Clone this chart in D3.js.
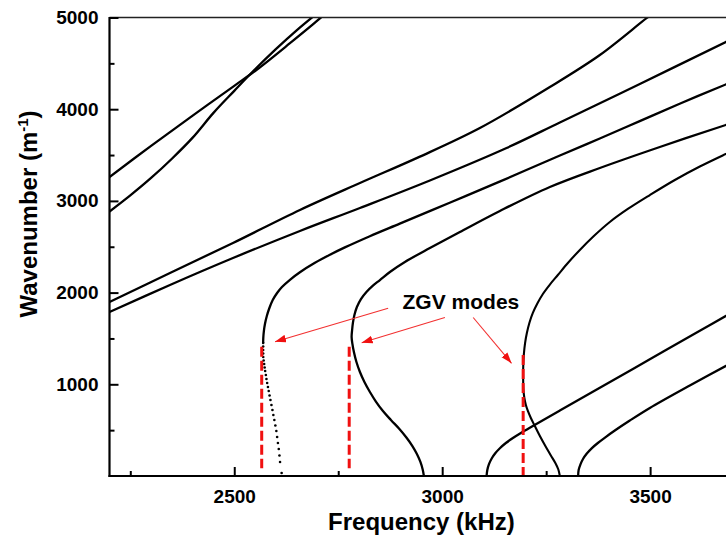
<!DOCTYPE html>
<html>
<head>
<meta charset="utf-8">
<script src="https://cdn.jsdelivr.net/npm/d3@7"></script>
<style>
  body { margin: 0; background: #fff; }
  svg { display: block; }
  text { font-family: "Liberation Sans", Arial, Helvetica, sans-serif; font-weight: bold; }
</style>
</head>
<body>
<svg id="chart" width="726" height="539"></svg>
<script>
// ---- Dispersion curves: [frequency (kHz), wavenumber (1/m)] ----
const modeA1 = [[2200,3261],[2300,3600],[2400,3930],[2500,4255],[2554,4430],[2634,4720],[2706,4990],[2715,5030]];
const modeA2 = [[2200,2884],[2250,3060],[2300,3250],[2350,3460],[2400,3690],[2450,3960],[2500,4200],[2550,4435],[2600,4655],[2650,4860],[2695,5030]];
const modeB  = [[2200,1898],[2345.4,2214],[2496.9,2541],[2657.9,2901],[2802.2,3195],[2946.4,3483],[3090.6,3795],[3258.9,4242],[3379.1,4591],[3492.1,4995],[3523.3,5100]];
const modeC  = [[2200,1788],[2345.4,2083],[2496.9,2377],[2657.9,2672],[2802.2,2923],[2970.4,3223],[3154.8,3577],[3282.9,3855],[3475.2,4275],[3682,4733],[3700,4771]];
// first ZGV mode: forward branch (line) and backward branch (sampled points)
const modeZ1Upper = [[2569.5,1450],[2569.8,1505],[2571.2,1581],[2573.8,1658],[2578.3,1745],[2584.5,1832],[2592.5,1919],[2603,1996],[2614.7,2061],[2633.9,2140],[2657.9,2222],[2694,2325],[2730,2413],[2766,2493],[2826,2615],[2898,2752],[3018,2980],[3138,3210],[3283,3495],[3379,3680],[3475,3870],[3571,4060],[3682,4270],[3700,4305]];
const modeZ1LowerFreq = [2569.5,2569.5,2569.5,2569.5,2569.7,2570.7,2571.9,2573.1,2574.3,2576,2577.4,2579.1,2581,2582.9,2584.9,2587,2589.4,2591.8,2594,2596.4,2598.8,2601.2,2603.1,2605,2607,2608.7,2610.1,2613.9];
const modeZ1LowerK    = [1450,1412,1374,1336,1298,1260,1221,1183,1145,1101,1058,1014,971,927,878,829,774,720,665,611,551,491,425,360,294,224,153,33];
// second ZGV mode, from the cut-off through the ZGV point and up
const modeZ2 = [[2956,0],[2953.1,71],[2947.6,153],[2939.2,240],[2928.4,327],[2913.9,420],[2897.1,513],[2876.7,611],[2857.5,709],[2840.6,812],[2826.2,916],[2813,1025],[2802.2,1134],[2793.8,1243],[2787.7,1352],[2784.1,1440],[2782.2,1516],[2783.4,1592],[2785.3,1669],[2788.9,1756],[2794.9,1843],[2804.6,1930],[2817.8,2007],[2833.4,2077],[2850.2,2137],[2874.3,2225],[2910.3,2334],[2970.4,2486],[3042.5,2661],[3138.7,2890],[3258.9,3152],[3379.1,3359],[3523.3,3588],[3682,3828],[3700,3855]];
// third ZGV mode
const modeZ3 = [[3282.9,0],[3279.3,71],[3272.1,142],[3261.3,224],[3248.1,327],[3234.9,436],[3222.8,545],[3213.2,633],[3206,709],[3201.2,774],[3197.6,851],[3195.4,938],[3194.7,1069],[3194.9,1200],[3196.4,1330],[3199.3,1450],[3203.6,1559],[3209.6,1669],[3218,1778],[3228.8,1881],[3242.1,1985],[3258.9,2088],[3278.1,2192],[3302.2,2323],[3331,2465],[3364.7,2617],[3403.1,2770],[3446.4,2912],[3499.3,3064],[3559.4,3228],[3619.5,3375],[3682,3512],[3700,3550]];
const modeM1 = [[3106.7,0],[3108.5,65],[3112.5,129],[3119,191],[3127.6,248],[3138.7,303],[3153.1,360],[3170,414],[3189.2,469],[3218,545],[3282.9,713],[3379.1,962],[3499.3,1273],[3619.5,1583],[3699.5,1791]];
const modeM2 = [[3326.9,0],[3328.1,65],[3332.5,127],[3338.9,188],[3347.8,245],[3359.4,302],[3374.3,360],[3392.3,422],[3415.1,496],[3451.2,605],[3499.3,742],[3595.4,987],[3699.5,1243]];

// ---- ZGV markers and annotation ----
const zgvFreq   = [2566, 2776.4, 3194.7];
const zgvTop    = [1410, 1410, 1320];
const zgvBottom = [84, 84, 0];
const zgvLabel  = "ZGV modes";
const zgvLabelAt = [3045, 1821];
const arrowFrom = [[2870, 1829], [3006.5, 1728.5], [3074.5, 1728.5]];
const arrowTo   = [[2598, 1465], [2806.3, 1453.6], [3166.8, 1229]];

// ---- Axes ----
const xTicks = [2500, 3000, 3500];
const xMinor = [2250, 2750, 3250];
const yTicks = [1000, 2000, 3000, 4000, 5000];
const yMinor = [500, 1500, 2500, 3500, 4500];
const xTitle = "Frequency (kHz)";
const yTitle = "Wavenumber (m";
const yTitleSup = "-1";

const svg = d3.select("#chart");
const pLeft = 109.5, pRight = 733.3, pTop = 17.5, pBottom = 476;
const x = d3.scaleLinear().domain([2200, 3700]).range([pLeft, pRight]);
const y = d3.scaleLinear().domain([0, 5000]).range([pBottom, pTop]);

const defs = svg.append("defs");
defs.append("clipPath").attr("id", "plot-clip")
  .append("rect").attr("x", pLeft).attr("y", pTop)
  .attr("width", pRight - pLeft).attr("height", pBottom - pTop);

defs.append("marker").attr("id", "arrowhead")
  .attr("viewBox", "0 0 10 7").attr("refX", 10).attr("refY", 3.5)
  .attr("markerWidth", 11).attr("markerHeight", 8)
  .attr("markerUnits", "userSpaceOnUse").attr("orient", "auto")
  .append("path").attr("d", "M0,0L10,3.5L0,7Z").attr("fill", "#f01010");

const plot = svg.append("g").attr("clip-path", "url(#plot-clip)");
const line = d3.line().x(d => x(d[0])).y(d => y(d[1])).curve(d3.curveCatmullRom.alpha(0.5));

[modeA1, modeA2, modeB, modeC, modeZ1Upper, modeZ2, modeM1, modeM2].forEach(m => {
  plot.append("path").attr("d", line(m)).attr("fill", "none")
    .attr("stroke", "#000").attr("stroke-width", 2.3).attr("stroke-linejoin", "round");
});
plot.append("path").attr("d", line(modeZ3)).attr("fill", "none")
  .attr("stroke", "#000").attr("stroke-width", 2.1);

plot.selectAll("circle.z1").data(d3.range(modeZ1LowerFreq.length)).join("circle")
  .attr("class", "z1")
  .attr("cx", i => x(modeZ1LowerFreq[i])).attr("cy", i => y(modeZ1LowerK[i]))
  .attr("r", 1.3).attr("fill", "#000");

// red dashed ZGV frequency markers
svg.selectAll("line.zgv").data(d3.range(zgvFreq.length)).join("line")
  .attr("class", "zgv")
  .attr("x1", i => x(zgvFreq[i])).attr("x2", i => x(zgvFreq[i]))
  .attr("y1", i => y(zgvTop[i])).attr("y2", i => y(zgvBottom[i]))
  .attr("stroke", "#f01010").attr("stroke-width", 3).attr("stroke-dasharray", "10,4");

// annotation arrows and label
svg.selectAll("line.arrow").data(d3.range(arrowFrom.length)).join("line")
  .attr("class", "arrow")
  .attr("x1", i => x(arrowFrom[i][0])).attr("y1", i => y(arrowFrom[i][1]))
  .attr("x2", i => x(arrowTo[i][0])).attr("y2", i => y(arrowTo[i][1]))
  .attr("stroke", "#f23030").attr("stroke-width", 1.1)
  .attr("marker-end", "url(#arrowhead)");

svg.append("text").attr("x", x(zgvLabelAt[0])).attr("y", y(zgvLabelAt[1]))
  .attr("text-anchor", "middle").attr("font-size", 21).attr("fill", "#000")
  .text(zgvLabel);

// frame
svg.append("line").attr("x1", pLeft).attr("x2", pRight).attr("y1", pTop).attr("y2", pTop)
  .attr("stroke", "#222").attr("stroke-width", 1.6);

// axes
const xAxis = svg.append("g").attr("transform", `translate(0,${pBottom})`)
  .call(d3.axisBottom(x).tickValues(xTicks).tickSizeInner(-9).tickSizeOuter(0)
    .tickPadding(13.5).tickFormat(d3.format("d")));
const xAxisMinor = svg.append("g").attr("transform", `translate(0,${pBottom})`)
  .call(d3.axisBottom(x).tickValues(xMinor).tickSizeInner(-5).tickSizeOuter(0).tickFormat(""));
const yAxis = svg.append("g").attr("transform", `translate(${pLeft},0)`)
  .call(d3.axisLeft(y).tickValues(yTicks).tickSizeInner(-9).tickSizeOuter(0)
    .tickPadding(11).tickFormat(d3.format("d")));
const yAxisMinor = svg.append("g").attr("transform", `translate(${pLeft},0)`)
  .call(d3.axisLeft(y).tickValues(yMinor).tickSizeInner(-5).tickSizeOuter(0).tickFormat(""));

[xAxis, xAxisMinor, yAxis, yAxisMinor].forEach(g => {
  g.select(".domain").remove();
  g.selectAll(".tick line").attr("stroke", "#000").attr("stroke-width", 2);
  g.selectAll(".tick text").attr("font-size", 19).attr("fill", "#000")
    .attr("font-family", "'Liberation Sans', Arial, sans-serif").attr("font-weight", "bold");
});

svg.append("line").attr("x1", pLeft).attr("x2", pLeft).attr("y1", pTop - 0.5).attr("y2", pBottom + 1)
  .attr("stroke", "#000").attr("stroke-width", 2.2);
svg.append("line").attr("x1", pLeft - 1).attr("x2", pRight).attr("y1", pBottom).attr("y2", pBottom)
  .attr("stroke", "#000").attr("stroke-width", 2.2);

// axis titles
svg.append("text").attr("x", (pLeft + pRight) / 2).attr("y", 529.5)
  .attr("text-anchor", "middle").attr("font-size", 24).attr("fill", "#000").text(xTitle);

const yt = svg.append("text").attr("transform", "translate(37,214) rotate(-90)")
  .attr("text-anchor", "middle").attr("font-size", 24).attr("fill", "#000");
yt.append("tspan").text(yTitle);
yt.append("tspan").attr("font-size", 15).attr("dy", -9).text(yTitleSup);
yt.append("tspan").attr("dy", 9).text(")");
</script>
</body>
</html>
